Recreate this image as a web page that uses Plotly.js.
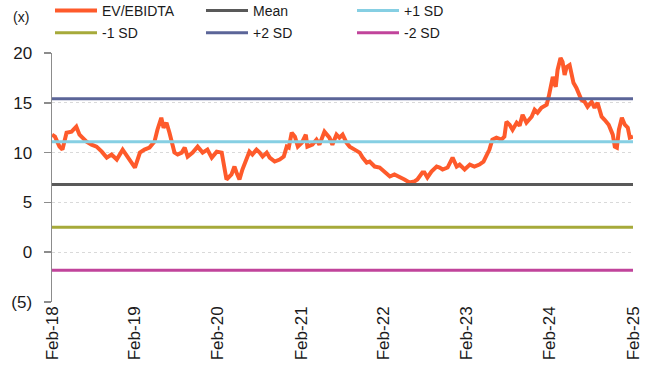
<!DOCTYPE html>
<html>
<head>
<meta charset="utf-8">
<script src="https://cdn.plot.ly/plotly-3.0.1.min.js"></script>
<style>html,body{margin:0;padding:0;background:#fff;}#chart{width:657px;height:376px;}</style>
</head>
<body>
<div id="chart"></div>
<script>
// ---- data ----
const dates = [
"2018-02-01","2018-02-14","2018-03-06","2018-03-19","2018-04-06","2018-04-28","2018-05-19","2018-06-02","2018-06-15","2018-07-03",
"2018-07-25","2018-08-16","2018-09-08","2018-09-30","2018-10-21","2018-11-13","2018-12-09","2018-12-31","2019-02-01","2019-02-23",
"2019-03-15","2019-04-06","2019-04-28","2019-05-11","2019-05-28","2019-06-07","2019-06-20","2019-07-03","2019-07-16","2019-07-25",
"2019-08-08","2019-08-26","2019-09-08","2019-09-21","2019-10-13","2019-11-04","2019-11-26","2019-12-17","2020-01-05","2020-01-27",
"2020-02-18","2020-03-01","2020-03-10","2020-04-01","2020-04-14","2020-04-23","2020-05-06","2020-05-19","2020-06-06","2020-06-19",
"2020-07-02","2020-07-20","2020-08-03","2020-08-16","2020-09-03","2020-09-16","2020-10-08","2020-10-30","2020-11-17","2020-11-30",
"2020-12-09","2020-12-22","2021-01-05","2021-01-18","2021-02-05","2021-02-22","2021-03-01","2021-03-23","2021-04-10","2021-04-23",
"2021-05-15","2021-06-06","2021-06-19","2021-07-07","2021-07-20","2021-08-03","2021-08-20","2021-09-03","2021-09-25","2021-10-17",
"2021-10-30","2021-11-17","2021-11-30","2021-12-22","2022-01-13","2022-02-05","2022-02-27","2022-03-19","2022-04-10","2022-05-02",
"2022-05-24","2022-06-15","2022-06-28","2022-07-20","2022-07-29","2022-08-11","2022-08-29","2022-09-21","2022-10-04","2022-10-17",
"2022-11-08","2022-11-30","2022-12-18","2022-12-31","2023-01-22","2023-02-14","2023-03-06","2023-03-28","2023-04-15","2023-04-28",
"2023-05-11","2023-05-24","2023-06-11","2023-07-03","2023-07-16","2023-07-25","2023-08-08","2023-08-21","2023-09-08","2023-09-21",
"2023-10-04","2023-10-21","2023-11-13","2023-11-26","2023-12-09","2023-12-26","2024-01-18","2024-01-27","2024-02-09","2024-02-14",
"2024-02-27","2024-03-06","2024-03-19","2024-03-28","2024-04-06","2024-04-15","2024-04-28","2024-05-06","2024-05-15","2024-05-28",
"2024-06-06","2024-06-19","2024-07-03","2024-07-16","2024-08-03","2024-08-16","2024-08-29","2024-09-16","2024-09-29","2024-10-17",
"2024-11-04","2024-11-13","2024-11-22","2024-12-01","2024-12-14","2024-12-27","2025-01-09","2025-01-18","2025-02-01"
];
const evEbitda = [
11.8,11.6,10.6,10.3,12.0,12.1,12.6,11.8,11.5,11.1,
10.8,10.6,10.1,9.5,9.8,9.3,10.3,9.5,8.5,10.0,
10.3,10.5,11.1,12.3,13.5,12.5,13.0,12.0,11.0,10.0,
9.8,10.0,10.5,9.6,10.0,10.6,10.0,10.3,9.5,10.1,
10.0,8.6,7.3,7.8,8.6,8.0,7.3,8.3,9.5,10.1,
9.8,10.3,10.0,9.6,10.0,9.5,9.1,9.3,9.6,10.6,
10.5,12.0,11.6,10.6,11.0,11.8,10.6,10.8,11.3,10.8,
12.1,11.5,10.8,11.8,11.5,11.8,11.0,10.6,10.3,10.0,
9.5,9.0,9.1,8.6,8.5,8.0,7.6,7.8,7.6,7.3,
7.0,7.1,7.3,8.0,8.0,7.5,8.1,8.6,8.5,8.3,
8.5,9.5,8.6,8.8,8.3,8.8,8.6,8.8,9.1,9.8,
10.3,11.3,11.5,11.3,11.6,13.1,12.8,12.3,13.0,12.7,
13.8,13.0,13.6,14.3,14.0,14.5,14.8,15.6,17.3,17.6,
16.6,18.3,19.5,19.1,17.8,18.6,18.8,17.8,17.0,16.5,
16.0,15.3,15.1,14.6,15.1,14.5,15.0,13.6,13.3,12.8,
11.8,10.6,10.5,12.3,13.5,12.8,12.5,11.5,11.6
];
const bandNames = ["Mean","+1 SD","-1 SD","+2 SD","-2 SD"];
const bandValues = [6.8, 11.1, 2.5, 15.4, -1.8];
const periodStart = "2018-02-01";
const periodEnd = "2025-02-01";
const xTickVals = ["2018-02-01","2019-02-01","2020-02-01","2021-02-01","2022-02-01","2023-02-01","2024-02-01","2025-02-01"];
const yTickVals = [-5, 0, 5, 10, 15, 20];
const yTickText = ["(5)", "0", "5", "10", "15", "20"];

// ---- styles ----
const FONT = "Liberation Sans, Arial, sans-serif";
const bandColors = {"Mean":"#595959","+1 SD":"#86cfe3","-1 SD":"#a6aa3a","+2 SD":"#5b6598","-2 SD":"#c1449b"};
const bandLegend = {"Mean":"legend","+1 SD":"legend","-1 SD":"legend2","+2 SD":"legend2","-2 SD":"legend2"};

const traces = [{
  x: dates, y: evEbitda, type: "scatter", mode: "lines", name: "EV/EBIDTA",
  line: {color: "#fe5a2b", width: 4}, legend: "legend"
}];
bandNames.forEach((n, i) => {
  traces.push({
    x: [periodStart, periodEnd], y: [bandValues[i], bandValues[i]],
    type: "scatter", mode: "lines", name: n,
    line: {color: bandColors[n], width: 3}, legend: bandLegend[n]
  });
});

const legendBase = {
  orientation: "h", xref: "container", yref: "container",
  xanchor: "left", yanchor: "middle", x: 0.0761,
  font: {family: FONT, size: 14, color: "#1a1a1a"},
  itemwidth: 42, entrywidthmode: "pixels", entrywidth: 94,
  bgcolor: "rgba(0,0,0,0)", borderwidth: 0, tracegroupgap: 0
};

const layout = {
  width: 657, height: 376,
  margin: {l: 52, r: 24, t: 53, b: 74, autoexpand: false},
  paper_bgcolor: "#ffffff", plot_bgcolor: "#ffffff",
  font: {family: FONT, size: 14, color: "#1a1a1a"},
  showlegend: true,
  legend: Object.assign({}, legendBase, {y: 0.9707}),
  legend2: Object.assign({}, legendBase, {y: 0.912}),
  xaxis: {
    type: "date", range: [periodStart, periodEnd],
    tickmode: "array", tickvals: xTickVals, tickformat: "%b-%y",
    tickangle: -90, showgrid: false, zeroline: false, showline: false,
    ticks: "", tickfont: {family: FONT, size: 17, color: "#1a1a1a"}
  },
  yaxis: {
    range: [-5, 20], tickmode: "array", tickvals: yTickVals, ticktext: yTickText,
    showline: true, linecolor: "#8c8c8c", linewidth: 1.5,
    ticks: "outside", ticklen: 7, tickcolor: "#8c8c8c", tickwidth: 1.5,
    ticklabelstandoff: 8,
    showgrid: true, gridcolor: "#d9d9d9", griddash: "dot", gridwidth: 1,
    zeroline: false, tickfont: {family: FONT, size: 17, color: "#1a1a1a"}
  },
  annotations: [{
    text: "(x)", xref: "paper", yref: "paper", x: -0.0534, y: 1.144,
    xanchor: "center", yanchor: "middle",
    showarrow: false, font: {family: FONT, size: 14, color: "#1a1a1a"}
  }]
};

Plotly.newPlot("chart", traces, layout, {staticPlot: true, displayModeBar: false});
</script>
</body>
</html>
